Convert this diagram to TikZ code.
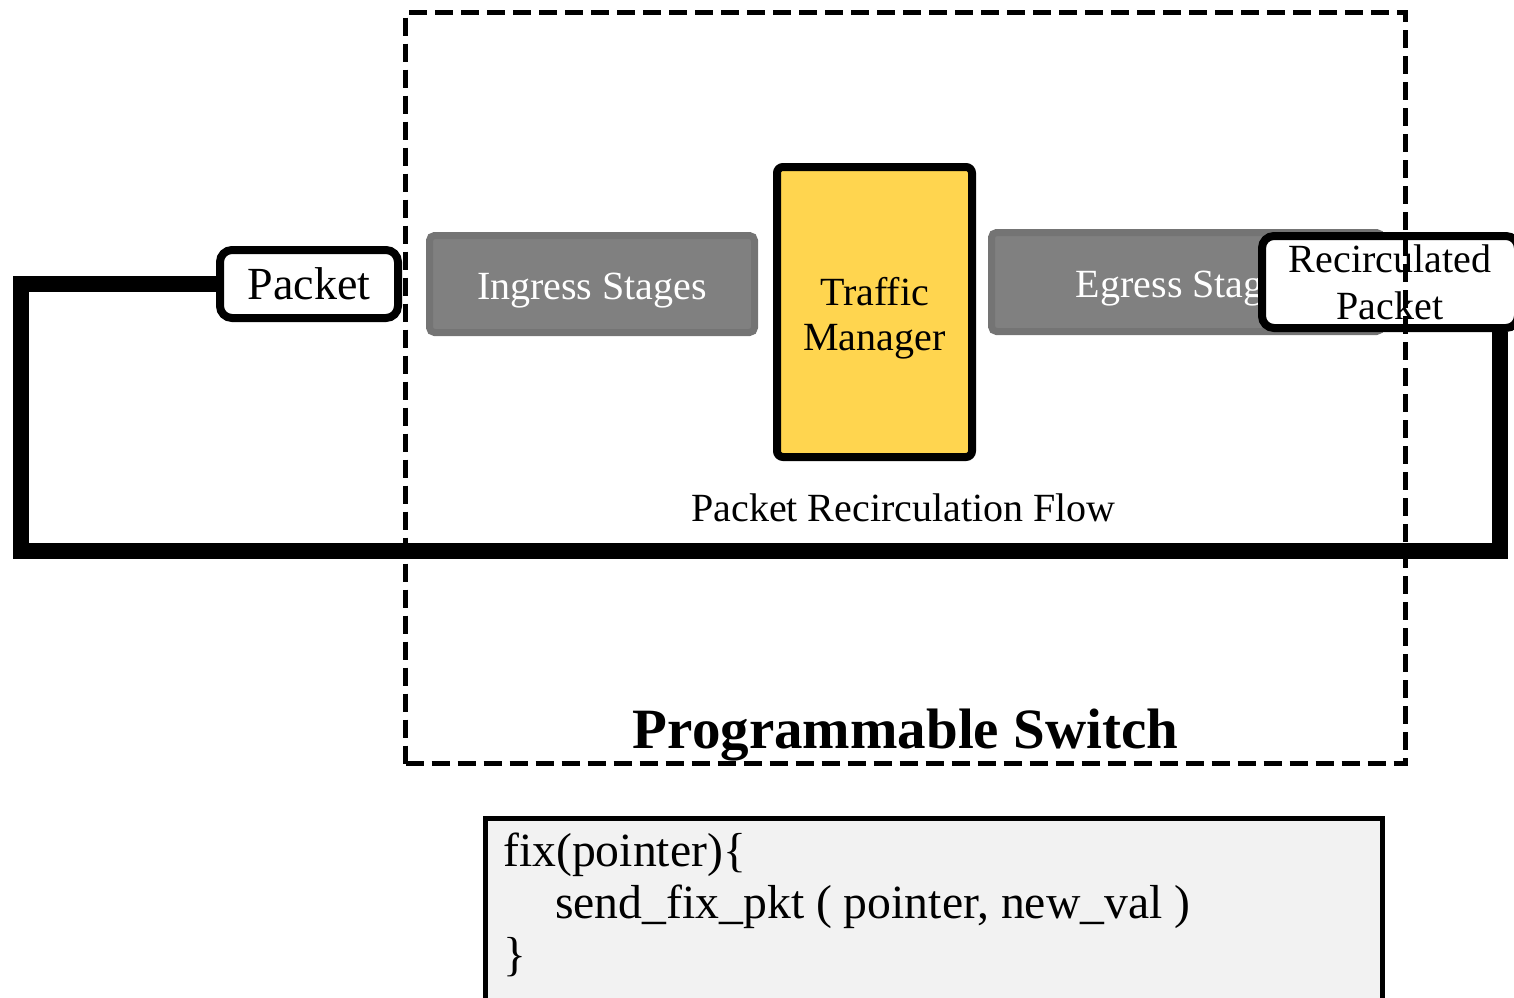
\documentclass[tikz,border=0pt]{standalone}
\usepackage{fontspec}
\setmainfont{Liberation Serif}
\usetikzlibrary{backgrounds}
\definecolor{stagefill}{RGB}{128,128,128}
\definecolor{stageedge}{RGB}{116,116,116}
\definecolor{tmyellow}{RGB}{255,213,79}
\definecolor{codegray}{RGB}{242,242,242}
\begin{document}
\begin{tikzpicture}[x=1pt,y=-1pt,
  loopline/.style={line width=16pt, line join=miter},
  pktbox/.style={draw, line width=8pt, fill=white, rounded corners=12pt, inner sep=0pt},
  stagebox/.style={draw=stageedge, fill=stagefill, line width=7pt, rounded corners=5pt,
    text=white, inner sep=0pt, font=\fontsize{40}{45}\selectfont, text height=31pt, text depth=0pt},
  tmbox/.style={draw, line width=8pt, fill=tmyellow, rounded corners=6pt, inner sep=0pt},
  switchbox/.style={draw, line width=5pt, dash pattern=on 18pt off 8pt, inner sep=0pt},
  codebox/.style={draw, line width=5pt, fill=codegray, inner sep=0pt},
  lbl/.style={inner sep=0pt, font=\fontsize{40}{45}\selectfont},
]
\useasboundingbox (0,0) rectangle (1514,997);

% packet entering the switch
\node[pktbox, minimum width=178pt, minimum height=68pt, font=\fontsize{46}{50}\selectfont,
  text height=30pt, text depth=0pt] (pkt) at (309,284) {Packet};

% pipeline stages
\node[stagebox, minimum width=325pt, minimum height=97pt] (ing) at (592,284) {Ingress Stages};
\node[stagebox, minimum width=390pt, minimum height=99pt] (egr) at (1186.5,282) {Egress Stages};
\node[tmbox, minimum width=195pt, minimum height=290pt] (tm) at (874.5,312) {};
\node[lbl, align=center] (tmtext) at ([yshift=-6pt]tm.center) {Traffic\\Manager};

% packet leaving the egress pipeline
\node[pktbox, minimum width=256pt, minimum height=92pt, align=center,
  font=\fontsize{40}{47}\selectfont] (rp) at (1390,282) {Recirculated\\Packet};

% recirculation loop, behind the boxes
\coordinate (loopL) at (21,551);
\coordinate (loopR) at (1500,551);
\begin{scope}[on background layer]
  \draw[loopline] (pkt.west) -| (loopL) -| (rp.south -| loopR);
\end{scope}

\node[lbl, anchor=base] (flow) at (903.5,521) {Packet Recirculation Flow};

% switch boundary
\node[switchbox, minimum width=1000pt, minimum height=751pt] (switch) at (905.5,388) {};
\node[inner sep=0pt, anchor=base, font=\fontsize{57}{60}\selectfont\bfseries] (swlabel) at (905.5,748) {Programmable Switch};

% code listing
\node[codebox, minimum width=897pt, minimum height=191.5pt] (code) at (934,914.25) {};
\node[inner sep=0pt, anchor=north west, align=left, font=\fontsize{47.7}{52}\selectfont] (codetext) at (503,833)
  {fix(pointer)\{\\\hspace*{52pt}send\_fix\_pkt ( pointer, new\_val )\\\}};
\end{tikzpicture}
\end{document}
